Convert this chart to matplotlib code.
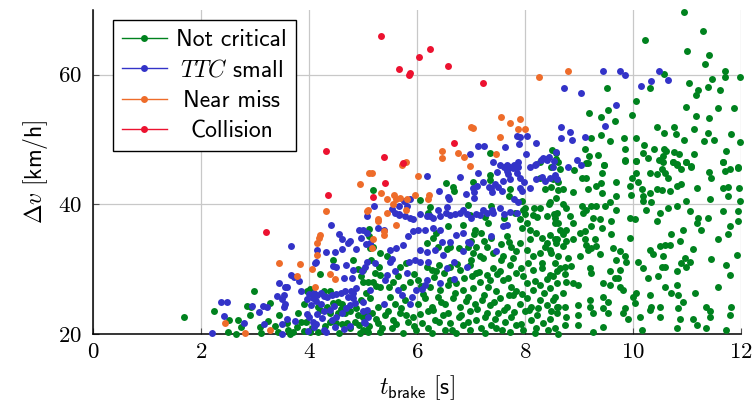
import matplotlib
matplotlib.use("Agg")
import matplotlib.pyplot as plt  # noqa: E402
from matplotlib.lines import Line2D  # noqa: E402
import numpy as np  # noqa: E402

plt.rcParams["mathtext.fontset"] = "cm"
plt.rcParams["font.family"] = "cmr10"
plt.rcParams["axes.formatter.use_mathtext"] = True

CLASS_LABELS = ["Not critical", "$TTC$ small", "Near miss", "Collision"]
CLASS_COLORS = ["#00821e", "#3333c8", "#ee6c2a", "#ec1230"]
X_TICKS = [0, 2, 4, 6, 8, 10, 12]
Y_TICKS = [20, 40, 60]

# (t_brake [s], delta v [km/h])
not_critical = [
    # sparse upper right
    (10.94, 69.6), (11.29, 66.7), (10.23, 65.3), (11.00, 63.6), (11.41, 63.0), (11.33, 61.6),
    (11.71, 60.6), (11.71, 59.6), (11.98, 59.6), (11.46, 59.4), (10.57, 60.1), (11.04, 58.7),
    (11.21, 57.7), (11.17, 56.9), (11.39, 58.1), (11.62, 57.7), (10.31, 58.0), (9.52, 58.0),
    (10.06, 56.0), (10.99, 55.0), (11.57, 54.9), (11.87, 54.8), (11.16, 53.6), (11.41, 53.3),
    (9.18, 54.1), (9.53, 54.6), (9.41, 53.4), (9.66, 52.9), (9.98, 53.8), (10.44, 51.9),
    (10.76, 52.0), (11.14, 51.6), (10.57, 51.0), (10.80, 50.8), (11.40, 51.0), (11.81, 50.9),
    (9.41, 50.7), (9.23, 50.2), (9.57, 49.8), (9.83, 50.2), (10.05, 50.3), (10.94, 50.0),
    (11.32, 49.7), (11.51, 49.9), (11.99, 49.6), (8.51, 48.4), (9.12, 48.5), (9.86, 48.6),
    (10.20, 49.1), (10.39, 48.6), (10.58, 48.6), (10.62, 48.2), (10.76, 48.1), (10.85, 47.8),
    (11.73, 48.2), (11.14, 47.8), (10.18, 47.9), (9.19, 47.4), (9.36, 47.6), (10.28, 47.2),
    (10.55, 47.5), (8.62, 46.5), (9.16, 46.4), (9.85, 46.8), (10.06, 46.7), (10.49, 46.9),
    (10.56, 46.5), (10.75, 46.5), (10.99, 46.6), (11.67, 46.5), (9.47, 46.1), (10.82, 46.0),
    (11.08, 45.8), (11.95, 45.6), (8.28, 46.5),
    # middle band 38-48
    (7.35, 47.9), (8.57, 48.0), (8.57, 47.0), (8.49, 45.8), (8.28, 44.0), (8.54, 44.0),
    (8.61, 43.5), (8.38, 42.4), (8.49, 42.7), (8.62, 42.2), (6.54, 43.3), (6.66, 42.7),
    (6.69, 42.1), (7.04, 43.5), (7.35, 44.5), (7.35, 43.7), (7.72, 42.3), (7.70, 41.3),
    (6.06, 40.7), (5.19, 42.2), (6.24, 39.6), (6.94, 39.9), (7.37, 39.7), (7.95, 40.5),
    (8.00, 39.5), (8.17, 39.5), (8.28, 39.4), (8.45, 40.1), (7.82, 38.7), (7.96, 39.1),
    (8.01, 38.5), (7.26, 38.0), (8.23, 38.1), (8.54, 38.5),
    # right half, below 47
    (9.14, 46.4), (9.46, 46.1), (9.85, 46.7), (10.06, 46.7), (10.31, 44.9), (10.44, 44.7),
    (10.53, 45.4), (10.59, 44.9), (10.65, 44.1), (10.74, 46.5), (10.81, 46.2), (10.90, 45.4),
    (10.99, 46.5), (11.08, 45.9), (11.41, 45.0), (11.67, 46.5), (11.70, 45.2), (11.79, 45.4),
    (11.95, 45.7), (11.45, 44.1), (10.05, 44.9), (9.99, 44.1), (10.10, 43.4), (10.16, 42.3),
    (9.94, 42.8), (9.69, 43.5), (9.40, 43.3), (9.42, 44.9), (9.05, 44.1), (9.13, 44.1),
    (8.90, 45.3), (8.65, 45.4), (8.52, 43.9), (8.71, 42.3), (8.89, 41.9), (9.17, 42.3),
    (9.32, 42.8), (9.42, 41.8), (9.69, 41.3), (9.97, 41.4), (10.19, 41.3), (10.31, 41.8),
    (10.44, 42.3), (10.53, 42.2), (10.68, 42.1), (10.81, 42.8), (10.90, 43.1), (10.99, 40.5),
    (11.19, 42.6), (11.42, 40.8), (11.67, 42.6), (11.76, 42.7), (11.76, 41.3), (11.97, 42.6),
    (11.98, 40.5), (11.95, 39.0), (11.95, 37.4), (11.67, 39.0), (11.79, 36.6), (11.77, 35.4),
    (11.58, 34.6), (11.44, 31.6), (11.39, 37.9), (11.26, 36.1), (11.21, 37.9), (11.18, 37.2),
    (11.05, 39.0), (10.92, 36.0), (10.81, 39.7), (10.65, 39.5), (10.50, 38.7), (10.44, 37.4),
    (10.25, 39.2), (10.19, 40.5), (10.33, 40.3), (9.69, 39.2), (9.57, 40.3), (9.48, 39.7),
    (9.32, 39.7), (9.23, 39.7), (9.14, 39.2), (9.08, 38.7), (9.05, 39.7), (8.77, 39.5),
    (8.71, 40.0), (8.58, 41.0), (8.46, 40.3), (8.55, 37.9), (8.61, 37.2), (8.83, 38.2),
    (8.89, 37.2), (8.77, 36.1), (8.65, 36.1), (8.71, 35.4), (8.55, 34.6), (8.58, 34.1),
    (8.46, 33.0), (8.71, 33.6), (8.77, 34.3), (8.89, 34.6), (9.02, 35.6), (9.11, 35.9),
    (9.23, 36.6), (9.26, 37.9), (9.39, 37.7), (9.42, 36.4), (9.60, 37.4), (9.60, 35.4),
    (9.29, 34.6), (9.14, 33.8), (9.17, 33.0), (9.23, 33.3), (9.32, 33.6), (9.39, 32.3),
    (9.11, 34.6), (9.02, 32.0), (8.80, 31.7), (8.65, 30.2), (8.74, 30.4), (8.86, 30.5),
    (8.52, 28.9), (8.74, 29.2), (8.77, 28.1), (8.89, 27.9), (8.98, 27.6), (9.20, 30.2),
    (9.23, 29.4), (9.45, 27.9), (9.57, 27.6), (9.63, 33.3), (9.76, 32.8), (9.85, 32.0),
    (9.88, 31.2), (9.69, 31.5), (9.76, 29.9), (9.66, 28.6), (9.73, 28.6), (9.76, 27.3),
    (9.82, 26.8), (9.57, 29.7), (8.71, 26.3), (8.52, 25.3), (8.61, 24.2), (8.74, 24.2),
    (8.77, 22.7), (8.98, 24.5), (8.98, 22.9), (9.20, 25.3), (9.20, 24.2), (9.26, 23.2),
    (9.45, 25.8), (9.54, 25.0), (9.45, 24.0), (9.54, 23.2), (9.85, 24.0), (9.82, 23.2),
    (9.91, 22.4), (9.45, 21.1), (9.26, 20.4), (8.98, 21.4), (8.74, 21.4), (8.61, 20.1),
    (10.03, 24.8), (10.06, 26.3), (10.13, 22.7), (10.16, 20.6), (9.94, 34.8), (9.94, 37.9),
    (10.03, 37.8), (10.10, 31.2), (10.19, 30.2), (10.28, 28.6), (10.31, 33.0), (10.37, 32.3),
    (10.50, 33.6), (10.59, 33.7), (10.68, 33.8), (10.71, 35.5), (10.87, 34.3), (10.96, 31.7),
    (10.99, 30.4), (11.05, 31.2), (11.11, 33.1), (10.90, 31.0), (10.81, 29.7), (10.59, 30.4),
    (10.56, 32.0), (10.53, 30.4), (10.47, 28.9), (10.31, 26.1), (10.59, 27.3), (10.71, 26.3),
    (10.84, 26.1), (10.81, 27.6), (10.93, 25.0), (11.15, 26.3), (10.34, 24.2), (10.31, 23.7),
    (10.50, 24.2), (10.50, 22.7), (10.84, 24.0), (10.87, 22.4), (11.11, 22.4), (11.18, 21.4),
    (10.81, 20.9), (11.36, 24.2), (11.42, 23.5), (11.42, 22.7), (11.58, 27.3), (11.82, 24.2),
    (11.79, 23.0), (11.73, 20.6), (11.79, 29.1), (11.92, 32.2), (11.73, 30.7), (11.36, 20.9),
    (10.00, 25.8),
    # dense centre, 5-8.6 s
    (6.21, 38.7), (6.98, 38.4), (7.32, 37.2), (7.61, 37.9), (7.90, 37.7), (8.03, 37.2),
    (8.15, 38.4), (8.40, 38.2), (8.55, 37.2), (8.59, 38.7), (6.36, 35.6), (7.07, 36.1),
    (7.19, 35.6), (7.38, 34.8), (7.66, 35.1), (7.90, 34.1), (8.09, 34.6), (8.31, 34.8),
    (8.46, 35.3), (8.59, 34.6), (7.01, 34.3), (7.10, 33.5), (8.09, 36.1), (6.18, 34.0),
    (6.39, 33.5), (6.61, 33.5), (6.77, 33.3), (7.04, 32.5), (7.17, 32.0), (7.29, 33.5),
    (7.41, 32.5), (7.60, 32.0), (7.75, 33.5), (7.84, 32.8), (8.03, 33.0), (8.15, 32.0),
    (8.28, 32.5), (8.37, 33.5), (8.49, 32.5), (8.62, 32.0), (5.19, 33.5), (5.31, 32.5),
    (5.01, 29.9), (5.22, 29.4), (5.31, 29.1), (5.68, 30.4), (6.18, 30.4), (6.27, 29.9),
    (6.36, 29.7), (6.61, 30.4), (6.80, 29.9), (6.98, 30.7), (7.10, 29.4), (7.29, 29.1),
    (7.41, 30.2), (7.54, 29.7), (7.72, 30.7), (7.84, 29.4), (7.97, 28.9), (8.15, 29.9),
    (8.31, 30.2), (8.46, 29.1), (8.59, 29.7), (5.01, 28.1), (5.19, 28.1), (5.31, 27.3),
    (5.56, 28.1), (5.75, 27.3), (5.87, 28.1), (6.02, 28.4), (6.24, 27.3), (6.43, 26.8),
    (6.58, 27.6), (6.73, 27.9), (6.86, 26.8), (7.04, 27.1), (7.17, 28.1), (7.32, 27.3),
    (7.47, 26.6), (7.60, 28.4), (7.75, 27.3), (7.84, 26.6), (8.03, 27.9), (8.15, 26.8),
    (8.28, 27.6), (8.46, 27.1), (8.59, 27.9), (4.97, 25.3), (5.13, 25.5), (5.28, 24.2),
    (5.50, 25.8), (5.59, 24.7), (5.78, 25.3), (6.02, 24.7), (6.15, 25.5), (6.27, 24.2),
    (6.39, 25.8), (6.52, 24.7), (6.67, 25.5), (6.80, 24.2), (6.95, 25.8), (7.07, 24.7),
    (7.20, 25.3), (7.35, 24.5), (7.54, 25.5), (7.66, 24.2), (7.78, 26.0), (7.90, 24.7),
    (8.03, 25.5), (8.12, 24.2), (8.28, 25.3), (8.40, 24.5), (8.55, 25.8), (8.59, 24.2),
    (5.01, 22.7), (5.16, 23.2), (5.28, 21.7), (5.41, 22.9), (5.56, 22.2), (5.68, 23.2),
    (5.84, 21.9), (5.93, 22.7), (6.09, 21.7), (6.21, 23.5), (6.33, 22.2), (6.49, 22.9),
    (6.61, 21.7), (6.77, 22.7), (6.86, 21.4), (6.98, 23.5), (7.10, 22.2), (7.26, 22.7),
    (7.38, 21.4), (7.51, 23.2), (7.63, 21.9), (7.75, 22.7), (7.84, 21.4), (8.00, 23.5),
    (8.12, 22.2), (8.22, 22.9), (8.34, 21.7), (8.46, 22.4), (8.59, 23.2), (5.07, 20.6),
    (5.31, 20.4), (5.53, 20.9), (5.75, 20.2), (5.99, 20.6), (6.27, 20.2), (6.52, 20.7),
    (6.73, 20.2), (6.98, 20.6), (7.26, 20.2), (7.47, 20.9), (7.72, 20.4), (7.97, 20.6),
    (8.18, 20.2), (8.43, 20.6),
    (5.12, 21.2), (5.25, 22.4), (5.35, 20.9), (5.47, 23.6), (5.62, 21.5), (5.70, 24.0),
    (5.80, 22.9), (5.95, 21.2), (6.05, 23.1), (6.12, 26.2), (6.20, 21.0), (6.30, 23.8),
    (6.40, 21.9), (6.45, 24.9), (6.58, 23.3), (6.65, 20.6), (6.70, 26.3), (6.82, 23.0),
    (6.90, 25.1), (6.95, 21.9), (7.02, 28.9), (7.12, 23.9), (7.18, 21.0), (7.25, 26.0),
    (7.30, 23.3), (7.42, 25.0), (7.45, 22.4), (7.58, 20.7), (7.62, 23.7), (7.70, 26.0),
    (7.80, 23.4), (7.92, 21.5), (7.95, 26.2), (8.08, 23.8), (8.20, 21.0), (8.25, 24.0),
    (8.35, 26.4), (8.48, 23.6), (8.55, 21.0), (5.05, 26.3), (5.25, 27.5), (5.48, 27.2),
    (5.65, 29.0), (5.95, 29.3), (6.08, 27.5), (6.32, 28.8), (6.50, 29.5), (6.62, 28.3),
    (6.75, 30.8), (6.88, 28.6), (7.00, 31.4), (7.15, 29.6), (7.22, 31.8), (7.35, 28.3),
    (7.48, 29.3), (7.55, 31.4), (7.68, 28.6), (7.78, 31.8), (7.92, 30.2), (8.05, 31.0),
    (8.18, 28.2), (8.32, 30.9), (8.40, 28.5), (8.55, 31.0), (5.30, 30.3), (5.45, 32.1),
    (5.80, 30.9), (6.40, 30.6), (6.55, 33.1), (6.95, 33.4), (7.25, 34.3), (7.55, 33.9),
    (7.95, 36.4), (8.20, 35.6), (8.40, 34.0), (7.70, 34.2), (6.85, 36.9), (7.05, 35.4),
    (6.58, 36.6), (6.30, 34.8),
    # left part, below 5 s
    (1.69, 22.7), (2.24, 23.6), (2.99, 26.7), (3.28, 24.8), (2.85, 24.4), (2.91, 22.9),
    (2.93, 24.2), (2.69, 22.2), (2.75, 21.1), (2.52, 22.2), (2.50, 20.3), (2.65, 20.1),
    (3.12, 20.2), (3.09, 21.1), (3.37, 21.3), (3.43, 20.3), (3.59, 21.7), (3.62, 20.6),
    (3.77, 21.1), (3.86, 21.9), (3.90, 24.6), (3.96, 26.6), (4.02, 26.9), (4.20, 29.3),
    (4.44, 31.5), (4.82, 31.5), (4.91, 30.1), (4.96, 29.0), (5.11, 36.2), (5.11, 35.1),
    (5.13, 33.3), (5.14, 31.5), (5.10, 28.0), (4.44, 24.8), (4.53, 24.9), (4.62, 24.7),
    (4.59, 23.9), (4.67, 23.2), (4.76, 23.5), (4.88, 24.0), (4.91, 22.9), (5.01, 22.7),
    (5.07, 23.0), (4.39, 21.9), (4.51, 21.7), (4.61, 21.6), (4.70, 21.7), (4.76, 20.9),
    (4.93, 21.4), (5.01, 20.6), (5.10, 20.4), (3.90, 20.5), (4.02, 20.4), (4.17, 20.4),
    (3.65, 20.1), (4.17, 24.2), (4.20, 23.7), (4.33, 24.2), (4.39, 23.3), (4.54, 23.3),
    (4.27, 26.6), (4.39, 26.6), (3.25, 22.0), (3.45, 23.0), (3.70, 20.3), (3.80, 23.3),
    (4.05, 20.9), (4.30, 21.3), (4.55, 20.2), (4.85, 21.9), (4.95, 20.2), (3.95, 21.9),
]

ttc_small = [
    (6.99, 47.7), (7.14, 49.0), (7.24, 49.0), (7.63, 48.8), (7.86, 50.5), (7.89, 49.3),
    (7.40, 46.5), (7.54, 46.0), (7.66, 46.0), (7.80, 46.0),
    (9.44, 60.6), (9.76, 60.6), (9.86, 60.0), (8.73, 58.0), (9.04, 57.2), (10.48, 60.6),
    (10.34, 59.1), (10.65, 59.2), (10.15, 58.2), (9.69, 55.3), (9.49, 52.1), (8.67, 52.0),
    (8.84, 51.1), (8.88, 49.9), (8.67, 50.2), (9.12, 50.4), (7.91, 50.4), (8.04, 50.5),
    (8.20, 49.5), (8.58, 48.1), (8.02, 47.8), (8.34, 47.1), (8.39, 47.0), (8.97, 46.9),
    (9.03, 46.1), (7.87, 46.5), (8.19, 46.1), (8.10, 45.7), (8.52, 45.7), (8.80, 45.7),
    (7.62, 45.8), (7.73, 45.8), (7.82, 45.8), (7.88, 45.7), (7.86, 44.9), (8.20, 46.2),
    (8.30, 46.8), (8.41, 46.8), (8.44, 47.3), (8.54, 46.7), (7.13, 44.9), (7.48, 45.0),
    (7.66, 45.2), (7.69, 44.7), (7.78, 45.6), (6.80, 44.3), (6.19, 44.4), (6.40, 42.1),
    (6.57, 41.2), (6.60, 40.8), (6.91, 41.6), (7.03, 42.6), (7.06, 41.9), (7.06, 41.0),
    (7.12, 42.8), (7.23, 43.5), (7.33, 42.7), (7.38, 42.6), (7.50, 42.7), (7.44, 43.1),
    (7.60, 43.6), (7.73, 43.9), (7.91, 44.1), (7.99, 43.5), (7.91, 42.6), (7.95, 42.0),
    (8.10, 42.6), (8.21, 43.9), (8.31, 44.3), (8.38, 43.6), (8.46, 44.0), (8.56, 44.6),
    (8.60, 43.9), (7.39, 41.9), (7.57, 42.1), (6.39, 39.2), (6.56, 39.6), (6.53, 38.7),
    (6.71, 38.5), (6.86, 39.1), (6.92, 38.5), (7.01, 37.9), (7.10, 38.5), (7.23, 39.2),
    (7.39, 39.2), (7.54, 39.4), (7.61, 38.5), (7.73, 38.9), (7.79, 40.8), (7.87, 40.3),
    (5.88, 40.9), (5.76, 40.5), (5.82, 39.7), (5.67, 39.7), (5.53, 39.3), (5.21, 39.7),
    (5.07, 38.2), (6.06, 38.5), (6.24, 38.2), (5.88, 37.9), (5.67, 38.5),
    (4.40, 36.8), (4.55, 35.5), (4.61, 34.6), (4.72, 34.1), (4.76, 34.3), (4.93, 36.0),
    (4.96, 34.8), (5.06, 33.9), (4.88, 33.2), (4.62, 33.1), (4.49, 32.6), (4.31, 32.6),
    (4.15, 32.9), (4.13, 31.2), (4.11, 30.9), (3.67, 33.6), (4.45, 30.5), (4.51, 30.3),
    (4.68, 30.7), (4.81, 29.9), (4.80, 28.6), (4.98, 29.8), (5.04, 30.4), (4.64, 28.6),
    (3.66, 29.1), (3.72, 28.8), (3.81, 28.2), (3.44, 27.9), (3.56, 27.2), (3.60, 27.3),
    (4.10, 26.4), (4.15, 26.0), (4.22, 26.3), (4.28, 25.9), (4.33, 25.7), (4.43, 26.0),
    (4.51, 26.2), (4.59, 26.3), (4.67, 26.7), (4.77, 26.7), (4.81, 26.3), (4.88, 27.1),
    (4.01, 26.2), (4.07, 25.6), (3.54, 26.0), (3.50, 25.4), (3.54, 24.2), (3.40, 25.9),
    (2.38, 25.0), (2.49, 24.9), (2.94, 24.4), (3.15, 24.4), (3.22, 24.2), (3.07, 23.4),
    (2.43, 22.8), (2.80, 21.7), (3.17, 21.5), (3.51, 21.6), (3.59, 22.3), (3.75, 22.1),
    (3.96, 23.1), (4.01, 22.7), (4.07, 21.9), (4.15, 23.1), (4.24, 22.5), (4.13, 21.5),
    (4.09, 21.1), (4.27, 23.5), (4.39, 23.8), (4.46, 24.4), (4.51, 22.7), (4.62, 23.2),
    (4.68, 24.0), (4.76, 24.5), (4.86, 24.8), (5.01, 24.9), (4.72, 25.7), (4.81, 25.6),
    (4.43, 22.2), (4.49, 21.1), (2.20, 20.2), (3.51, 20.0), (3.99, 20.5), (4.27, 20.6),
    (4.32, 20.4), (4.64, 20.8), (4.76, 21.3), (5.02, 21.8), (5.10, 22.7), (5.01, 23.6),
    (4.23, 24.6), (4.13, 25.1), (4.04, 24.5), (3.96, 25.4), (3.86, 26.6), (3.56, 24.6),
    (5.01, 36.1), (5.07, 35.6), (5.27, 36.4), (5.39, 36.1), (5.13, 34.1), (5.07, 31.1),
    (5.22, 31.0), (5.53, 31.6), (5.50, 31.1), (5.44, 29.1), (5.41, 28.3), (5.59, 29.7),
    (5.81, 29.5), (5.13, 26.8), (5.39, 24.6), (5.65, 26.8), (5.72, 26.0), (5.90, 25.8),
    (5.87, 24.6), (5.99, 26.8), (6.09, 26.9), (6.15, 27.6), (6.18, 28.4), (5.07, 23.7),
    (5.04, 21.7), (5.50, 33.0), (5.62, 33.3), (5.75, 33.8), (5.86, 31.2), (5.96, 31.4),
    (6.06, 31.2), (6.21, 31.1), (6.06, 33.0), (6.18, 32.6), (6.33, 32.9), (5.84, 35.1),
    (5.93, 35.9), (6.02, 36.1), (6.15, 36.1), (6.30, 36.4), (6.43, 36.1), (6.61, 34.2),
    (6.46, 34.2), (6.49, 32.2), (6.56, 30.2), (6.43, 27.9), (6.69, 28.5), (6.69, 31.1),
    (6.86, 32.8), (6.95, 34.2), (6.98, 34.1), (6.92, 30.4), (7.17, 38.4), (7.29, 38.7),
    (7.41, 38.7), (7.38, 35.1), (7.47, 32.8), (7.60, 36.6), (7.66, 36.9), (7.85, 38.6),
    (5.93, 37.7), (6.18, 38.2), (6.30, 37.9), (6.43, 38.2), (6.61, 38.4), (6.80, 38.6),
    (5.59, 38.7), (5.67, 38.4), (5.78, 38.2), (6.73, 35.3), (6.86, 35.6),
]

near_miss = [
    (7.55, 53.4), (7.90, 53.1), (7.72, 52.6), (7.88, 51.6), (8.00, 51.7), (7.00, 51.9),
    (7.04, 51.8), (7.54, 50.4), (6.46, 48.2), (6.46, 47.2), (6.76, 47.9), (6.88, 47.3),
    (7.47, 47.7), (6.98, 45.9), (8.26, 59.7), (8.80, 60.5), (5.80, 46.6), (5.72, 46.0),
    (5.16, 44.9), (6.02, 44.4), (4.94, 43.1), (5.33, 41.8), (5.45, 40.9), (5.56, 40.0),
    (5.58, 41.4), (5.69, 41.0), (5.62, 40.8), (5.81, 40.8), (5.96, 41.5), (6.23, 41.5),
    (6.20, 40.8), (5.09, 39.2), (5.80, 39.2), (5.28, 37.8), (5.12, 44.8), (4.31, 39.0),
    (4.21, 35.3), (4.19, 34.8), (4.14, 34.1), (4.14, 32.2), (3.45, 31.0), (3.84, 30.8),
    (4.06, 30.0), (4.39, 29.3), (4.49, 28.5), (3.78, 28.9), (4.11, 27.3), (2.45, 21.7),
    (2.82, 20.2), (3.28, 20.7), (5.07, 39.0), (5.44, 38.7), (5.28, 37.4), (5.61, 36.9),
    (5.39, 35.9), (5.39, 35.3), (5.18, 34.7), (5.16, 33.3),
]

collision = [
    (5.33, 66.0), (6.25, 63.9), (6.03, 62.8), (6.58, 61.4), (5.67, 60.8), (5.88, 60.2),
    (5.86, 60.0), (7.22, 58.7), (4.32, 48.2), (6.69, 49.5), (5.39, 47.3), (5.75, 46.4),
    (4.36, 41.4), (3.21, 35.8), (5.41, 43.3), (5.18, 41.1),
]

fig = plt.figure(figsize=(7.56, 4.09), dpi=100)
ax = fig.add_axes([0.123, 0.183, 0.857, 0.793])

handles = []
for pts, color, label in zip([not_critical, ttc_small, near_miss, collision],
                             CLASS_COLORS, CLASS_LABELS):
    a = np.array(pts)
    ax.scatter(a[:, 0], a[:, 1], s=25, color=color, linewidths=0, zorder=3, clip_on=False)
    handles.append(Line2D([], [], color=color, lw=1.0, marker="o", markersize=5,
                          markeredgewidth=0, label=label))

ax.set_xlim(0, 12)
ax.set_ylim(20, 70)
ax.set_xticks(X_TICKS)
ax.set_yticks(Y_TICKS)
ax.tick_params(direction="in", length=4, width=0.8, color="#505050", labelsize=16.5)
ax.tick_params(axis="x", pad=6)
ax.tick_params(axis="y", pad=8)
ax.grid(True, color="#c8c8c8", lw=0.9)
ax.set_axisbelow(True)
for side in ("top", "right"):
    ax.spines[side].set_visible(False)
for side in ("left", "bottom"):
    ax.spines[side].set_linewidth(1.1)

ax.set_xlabel(r"$t_{\mathsf{brake}}\ [\mathsf{s}]$", fontsize=17, labelpad=8)
ax.set_ylabel(r"$\Delta v\ [\mathsf{km/h}]$", fontsize=17, labelpad=6)

leg = ax.legend(handles=handles, loc="upper left", bbox_to_anchor=(0.031, 0.969),
                borderaxespad=0, prop={"family": "cmss10", "size": 17},
                handlelength=1.9, handletextpad=0.4, labelspacing=0.36,
                borderpad=0.38, fancybox=False, framealpha=1, edgecolor="black")
leg.get_frame().set_linewidth(1.0)

# pgfplots centres legend text: shift each label by half its missing width
fig.canvas.draw()
r = fig.canvas.get_renderer()
texts = leg.get_texts()
widths = [t.get_window_extent(r).width for t in texts]
wmax = max(widths)
for t, tw in zip(texts, widths):
    t.set_position(((wmax - tw) / 2, 0))

fig.savefig("out.png", dpi=100)
